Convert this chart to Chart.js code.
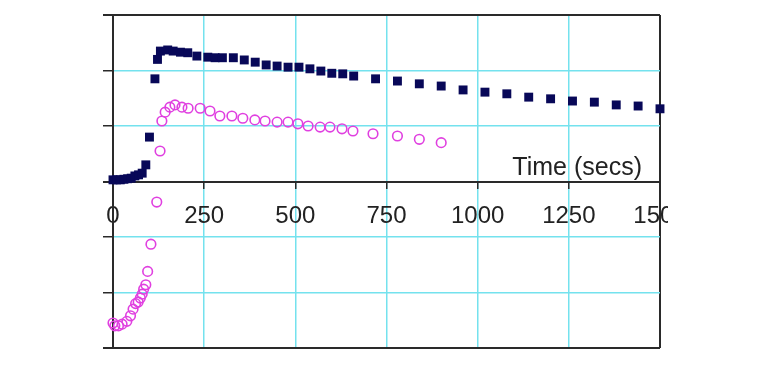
<!DOCTYPE html>
<html>
<head>
<meta charset="utf-8">
<script src="https://cdn.jsdelivr.net/npm/chart.js@4"></script>
<style>
  html, body { margin: 0; padding: 0; background: #fff; }
  #wrap { width: 668px; height: 372px; overflow: hidden; }
</style>
</head>
<body>
<div id="wrap"><canvas id="chart"></canvas></div>
<script>
// серия 1 (тёмные квадраты)
const squareTime = [0, 10, 20, 30, 40, 50, 60, 70, 80, 90, 100, 115, 122, 130, 150, 165, 185, 205, 230, 260, 280, 300,
  330, 360, 390, 420, 450, 480, 510, 540, 570, 600, 630, 660, 720, 780, 840, 900, 960, 1020, 1080, 1140, 1200, 1260,
  1320, 1380, 1440, 1500];
const squareValue = [0.03, 0.03, 0.03, 0.04, 0.05, 0.06, 0.1, 0.12, 0.15, 0.3, 0.8, 1.85, 2.2, 2.35, 2.37, 2.35, 2.33,
  2.32, 2.26, 2.24, 2.23, 2.23, 2.23, 2.19, 2.15, 2.1, 2.08, 2.06, 2.06, 2.03, 1.99, 1.95, 1.94, 1.9, 1.85, 1.81, 1.76,
  1.72, 1.65, 1.61, 1.58, 1.52, 1.49, 1.45, 1.43, 1.38, 1.36, 1.31];

// серия 2 (розовые кружки)
const circleTime = [0, 5, 15, 25, 38, 48, 55, 62, 69, 75, 80, 84, 90, 95, 104, 120, 129, 134, 143, 156, 170, 189, 206,
  239, 266, 293, 326, 356, 389, 417, 450, 480, 507, 535, 568, 595, 628, 658, 713, 780, 840, 900];
const circleValue = [-2.55, -2.6, -2.6, -2.57, -2.52, -2.42, -2.3, -2.2, -2.17, -2.1, -2.03, -1.94, -1.86, -1.62, -1.13,
  -0.37, 0.55, 1.09, 1.25, 1.34, 1.38, 1.34, 1.32, 1.32, 1.27, 1.18, 1.18, 1.14, 1.11, 1.09, 1.07, 1.07, 1.04, 1.0, 0.98,
  0.98, 0.95, 0.91, 0.86, 0.82, 0.76, 0.7];

const xTicks = [0, 250, 500, 750, 1000, 1250, 1500];
const axisTitle = 'Time (secs)';

const cyan = '#74e2ee';
const dark = '#2a2a2a';

const toPoints = (xs, ys) => xs.map((x, i) => ({ x: x, y: ys[i] }));

// подпись оси внутри графика
const timeLabel = {
  id: 'timeLabel',
  afterDraw(chart) {
    const ctx = chart.ctx;
    ctx.save();
    ctx.font = '25px "Liberation Sans", Arial, sans-serif';
    ctx.fillStyle = '#222';
    ctx.textAlign = 'right';
    ctx.textBaseline = 'alphabetic';
    ctx.fillText(axisTitle, 642, 175);
    ctx.restore();
  }
};

new Chart(document.getElementById('chart'), {
  type: 'scatter',
  data: {
    datasets: [{
      data: toPoints(squareTime, squareValue),
      pointStyle: 'rect',
      pointRadius: 6.3,
      backgroundColor: '#080858',
      borderColor: '#080858',
      borderWidth: 0,
      clip: false
    }, {
      data: toPoints(circleTime, circleValue),
      pointStyle: 'circle',
      pointRadius: 4.8,
      backgroundColor: 'rgba(0,0,0,0)',
      borderColor: '#e040e0',
      borderWidth: 1.6,
      clip: false
    }]
  },
  options: {
    responsive: true,
    maintainAspectRatio: false,
    animation: false,
    layout: { padding: { left: 103, right: 8, top: 15, bottom: 24 } },
    plugins: {
      legend: { display: false },
      tooltip: { enabled: false }
    },
    scales: {
      x: {
        type: 'linear',
        position: { y: 0 },
        min: 0,
        max: 1500,
        afterFit(scale) {
          scale.paddingLeft = 0;
          scale.paddingRight = 0;
        },
        afterBuildTicks(scale) {
          scale.ticks = xTicks.map(v => ({ value: v }));
        },
        ticks: {
          maxRotation: 0,
          autoSkip: false,
          padding: 14,
          color: '#222',
          font: { family: '"Liberation Sans", Arial, sans-serif', size: 24 },
          callback: v => String(v)
        },
        grid: {
          color: ctx => (ctx.tick && (ctx.tick.value === 0 || ctx.tick.value === 1500)) ? dark : cyan,
          lineWidth: ctx => (ctx.tick && (ctx.tick.value === 0 || ctx.tick.value === 1500)) ? 2 : 1.5,
          tickColor: dark,
          tickLength: 6
        },
        border: { color: dark, width: 2 }
      },
      y: {
        type: 'linear',
        min: -3,
        max: 3,
        ticks: { stepSize: 1, display: false },
        grid: {
          color: ctx => (ctx.tick && Math.abs(ctx.tick.value) % 3 === 0) ? dark : cyan,
          lineWidth: ctx => (ctx.tick && Math.abs(ctx.tick.value) % 3 === 0) ? 2 : 1.5,
          tickColor: dark,
          tickLength: 10
        },
        border: { color: dark, width: 2 }
      }
    }
  },
  plugins: [timeLabel]
});
</script>
</body>
</html>
